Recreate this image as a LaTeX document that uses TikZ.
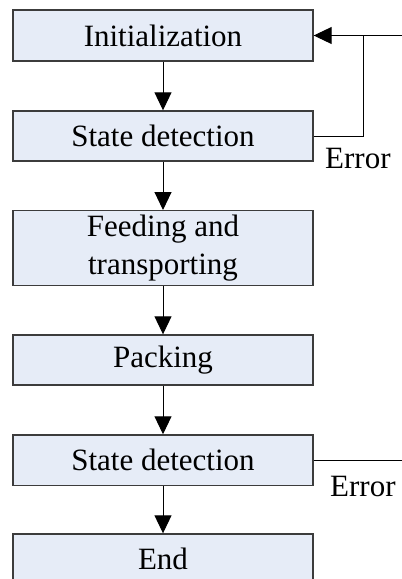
\documentclass[tikz,border=0pt]{standalone}
\usepackage{fontspec}
\setmainfont{Liberation Serif}
\usetikzlibrary{arrows.meta}
\definecolor{boxfill}{RGB}{230,236,247}
\definecolor{boxline}{RGB}{60,60,60}
\tikzset{
  stepbox/.style={draw=boxline, line width=1.4pt, fill=boxfill, minimum width=300pt, inner sep=0pt, align=center, font=\fontsize{31}{37.4}\selectfont},
  flow/.style={line width=1pt, -{Triangle[length=18pt,width=17pt]}},
  plain/.style={line width=1pt},
  lbl/.style={inner sep=0pt, font=\fontsize{31}{37.4}\selectfont}
}
\begin{document}
\begin{tikzpicture}[x=1pt,y=-1pt]
\clip (0,0) rectangle (402,579);
\node[stepbox, minimum height=51pt] (b1) at (163,35.5) {Initialization};
\node[stepbox, minimum height=50pt] (b2) at (163,136) {State detection};
\node[stepbox, minimum height=75pt] (b3) at (163,248.2) {Feeding and\\transporting};
\node[stepbox, minimum height=50pt] (b4) at (163,360) {Packing};
\node[stepbox, minimum height=50.7pt] (b5) at (163,460.3) {State detection};
\node[stepbox, minimum height=50pt] (b6) at (163,559) {End};
\draw[flow] (b1) -- (b2);
\draw[flow] (b2) -- (b3);
\draw[flow] (b3) -- (b4);
\draw[flow] (b4) -- (b5);
\draw[flow] (b5) -- (b6);
\coordinate (fbR) at (402,35.5);
\coordinate (fbJ) at (363,35.5);
\coordinate (errR) at (402,460.3);
\draw[flow] (fbR) -- (b1.east);
\draw[plain] (b2.east) -| (fbJ);
\draw[plain] (b5.east) -- (errR);
\node[lbl, anchor=base west] (e1) at (325,168) {Error};
\node[lbl, anchor=base west] (e2) at (330,496) {Error};
\end{tikzpicture}
\end{document}
